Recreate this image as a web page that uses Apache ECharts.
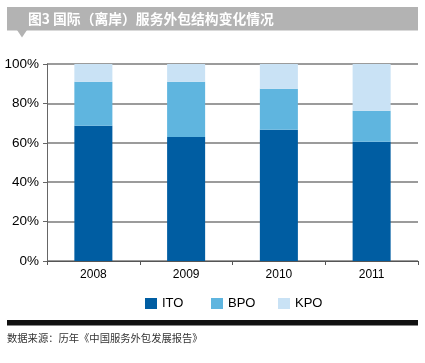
<!DOCTYPE html>
<html><head><meta charset="utf-8">
<script src="https://cdn.jsdelivr.net/npm/echarts@6/dist/echarts.min.js"></script>
<style>html,body{margin:0;padding:0;background:#fff}#c{width:425px;height:363px}</style>
</head><body><div id="c"></div>
<script>
const years = ['2008','2009','2010','2011'];
const ito = [68.6, 63.0, 66.6, 60.5];
const bpo = [22.4, 28.0, 20.8, 15.8];
const kpo = [9.0, 9.0, 12.6, 23.7];
const yTicks = [0,20,40,60,80,100];
const seriesNames = ['ITO','BPO','KPO'];
const colors = ['#005DA2','#5FB5DF','#C9E2F5'];

const chart = echarts.init(document.getElementById('c'), null, {renderer:'canvas'});
const font = 'Liberation Sans, Arial, sans-serif';
const cjk = '"Noto Sans CJK SC", sans-serif';
const legendPos = [145, 211, 278];
chart.setOption({
  animation:false,
  grid:{left:47,right:7,top:64,bottom:102,containLabel:false},
  xAxis:{type:'category',data:years,
    axisLine:{show:true,lineStyle:{color:'#555',width:1}},
    axisTick:{show:true,length:4,lineStyle:{color:'#555'}},
    axisLabel:{color:'#000',fontSize:12,fontFamily:font,margin:8}},
  yAxis:{type:'value',min:0,max:100,interval:20,
    axisLine:{show:true,lineStyle:{color:'#666',width:1}},
    axisTick:{show:true,inside:false,length:4,lineStyle:{color:'#666'}},
    splitLine:{show:true,lineStyle:{color:'#7a7a7a',width:1.5}},
    axisLabel:{color:'#000',fontSize:13.5,fontFamily:font,margin:8,formatter:v=>v+'%'}},
  legend: seriesNames.map((n,i)=>({data:[n],left:legendPos[i],top:297,itemWidth:12,itemHeight:11,itemGap:5,
    textStyle:{color:'#000',fontSize:13,fontFamily:font},icon:'rect',padding:0})),
  series:[ito,bpo,kpo].map((d,i)=>({name:seriesNames[i],type:'bar',stack:'a',data:d,barWidth:'41%',
    itemStyle:{color:colors[i]}})),
  graphic:[
    {type:'rect',shape:{x:7,y:7,width:411,height:23.5},style:{fill:'#b3b3b3'}},
    {type:'polygon',shape:{points:[[17,30],[27,30],[22,37.5]]},style:{fill:'#b3b3b3'}},
    {type:'text',left:28,top:12,style:{text:'图3 国际（离岸）服务外包结构变化情况',fill:'#fff',font:'bold 13.8px '+cjk}},
    {type:'rect',shape:{x:7,y:320,width:411,height:5.5},style:{fill:'#111'}},
    {type:'text',left:7,top:333,style:{text:'数据来源：历年《中国服务外包发展报告》',fill:'#333',font:'10.3px '+cjk}}
  ]
});
</script></body></html>
